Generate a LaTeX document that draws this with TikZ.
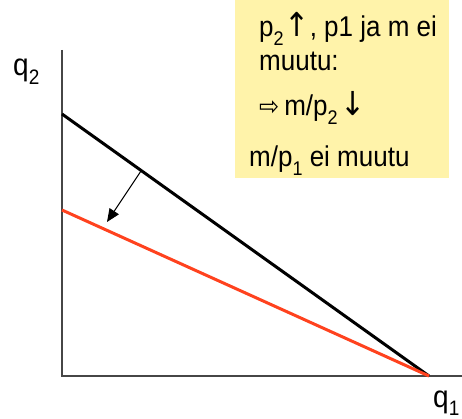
\documentclass[tikz,border=0pt]{standalone}
\usepackage{fontspec}
\usepackage{graphicx}
\setmainfont{Liberation Sans}
\newfontfamily\arrowfont{DejaVu Sans}
\usetikzlibrary{arrows.meta}
\definecolor{boxyellow}{RGB}{255,243,170}
\definecolor{budgetred}{RGB}{255,66,30}
\definecolor{axisgray}{RGB}{70,70,70}
\newcommand{\mysub}[1]{\raisebox{-0.28em}{\fontsize{18}{18}\selectfont #1}}
\newcommand{\axsub}[1]{\raisebox{-8pt}{\fontsize{19}{19}\selectfont #1}}
\newcommand{\arr}[1]{{\arrowfont #1}}
\newcommand{\vstretch}[1]{\scalebox{1}[1.1]{#1}}
\tikzset{
  axisline/.style={draw=axisgray, line width=1.2pt},
  oldline/.style={draw=black, line width=3pt},
  newline/.style={draw=budgetred, line width=3pt},
  shiftarrow/.style={draw=black, line width=1pt, -{Triangle[length=13pt,width=11pt]}},
  boxtext/.style={anchor=base west, inner sep=0pt, font=\fontsize{26}{30}\selectfont},
  axislabel/.style={anchor=base west, inner sep=0pt, font=\fontsize{28}{30}\selectfont}
}
\begin{document}
\begin{tikzpicture}[x=1pt,y=-1pt]
\useasboundingbox (0,0) rectangle (462,419);
\fill[white] (0,0) rectangle (462,419);
% info box
\fill[boxyellow] (235,0) rectangle (449,178);
\node[boxtext] (t1) at (259,37) {\vstretch{p\mysub{2}\hspace{1pt}{\fontsize{30}{30}\selectfont\arr{↑}}, p1 ja m ei}};
\node[boxtext] (t2) at (259,71) {\vstretch{muutu:}};
\node[boxtext] (t3) at (259,116) {\vstretch{{\fontsize{24}{24}\selectfont\arr{⇨}}\hspace{5pt}m/p\mysub{2}\hspace{3pt}{\fontsize{30}{30}\selectfont\arr{↓}}}};
\node[boxtext] (t4) at (249,167) {\vstretch{m/p\mysub{1} ei muutu}};
% axes
\coordinate (O) at (62,376);
\coordinate (ytop) at (62,50);
\coordinate (xend) at (462,376);
\draw[axisline] (ytop) -- (O) -- (xend);
\node[axislabel] (q2) at (13,76) {\vstretch{q\axsub{2}}};
\node[axislabel] (q1) at (433,407) {\vstretch{q\axsub{1}}};
% budget lines
\coordinate (B0) at (62,114);
\coordinate (B1) at (62,210);
\coordinate (X) at (429,376);
\draw[oldline] (B0) -- (X);
\draw[newline] (B1) -- (X);
% shift arrow
\coordinate (As) at (141,171);
\coordinate (Ae) at (107,222);
\draw[shiftarrow] (As) -- (Ae);
\end{tikzpicture}
\end{document}
